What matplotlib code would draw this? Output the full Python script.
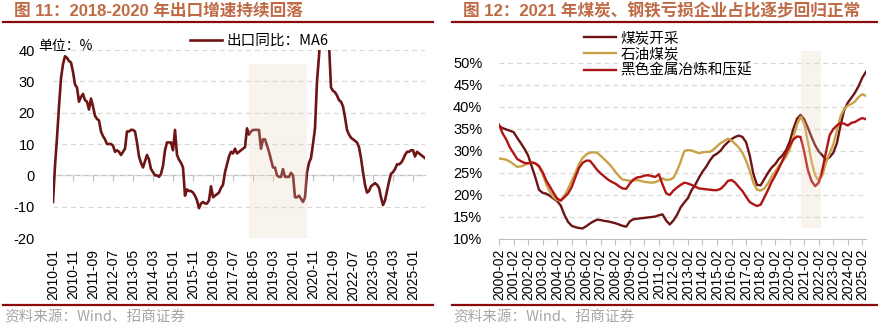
import numpy as np
import pandas as pd
import matplotlib
matplotlib.use('Agg')
import matplotlib.pyplot as plt
import matplotlib.ticker as mticker
from matplotlib.lines import Line2D

plt.rcParams['font.family'] = ['Liberation Sans', 'Noto Sans CJK SC']
plt.rcParams['axes.unicode_minus'] = False

# ---- left chart: export yoy, 6m moving average (monthly, from 2010-01)
export_start = '2010-01'
export_ma6 = [
    -8.5, 3, 12, 22, 31, 35.5, 38, 37.5, 36.5, 36, 33, 29,
    28, 23.5, 25, 26, 24, 23.5, 21, 24.5, 22, 19, 18, 17.5,
    14, 12.5, 11.5, 10, 10, 10, 9.5, 7.5, 8, 7.5, 6.5, 7.5,
    8.5, 14, 14, 14.5, 14.5, 14, 10.5, 6, 4, 2.5, 4.5, 6.5,
    5, 2, 1, 0, 0, -0.5, 0.5, 3, 8, 10.5, 10.5, 10.5,
    8, 14.5, 6.5, 5, 4, 2.5, -6.5, -4.5, -5, -5, -5.5, -6.5,
    -8, -10.5, -9, -8.5, -9, -9, -8, -3.5, -7, -6.5, -6, -5.5,
    -4, -3, 1, 3.5, 6, 7.5, 7, 8.5, 7, 7.5, 8, 8.5,
    9, 15, 13, 14, 14.5, 14.5, 14.5, 14.5, 8.5, 11.5, 11.5, 9.5,
    7.5, 5, 2.5, 2.5, 0, -0.5, -0.5, 2, -0.5, -0.5, -0.5, 0.8,
    0, -7, -7, -6.5, -7.5, -8.5, -7, 1, 4, 5.5, 10, 15,
    30, 38, 48, 55, 55, 50, 42, 28, 27, 26.5, 25.5, 24,
    23.5, 22, 18.5, 14.5, 13, 12, 11.5, 11, 10.5, 9, 5.5, 1,
    -3, -5.5, -5, -3.5, -3, -2.5, -3, -4, -7, -9.5, -8, -5,
    -2, 0.5, 1, 2, 3.5, 3.5, 4, 5, 6.5, 7.5, 7.5, 8,
    8, 6, 7.5, 7, 6.5, 6, 5.5,
]
export_label = '出口同比：MA6'
export_shade = (98, 127)        # month index from 2010-01
export_shade_y = (-20, 35.5)

# ---- right chart: share of loss-making firms (quarterly samples from 2000-02)
loss_start_year = 2000
coal_mining = [
    35.7, 35.2, 34.9, 34.6, 34.3, 33.0, 31.8, 30.5, 29.0, 26.5,
    24.0, 21.2, 20.5, 20.3, 19.8, 19.2, 18.6, 17.6, 15.5, 13.9,
    13.0, 12.7, 12.5, 12.4, 12.9, 13.5, 14.0, 14.4, 14.3, 14.1,
    14.0, 13.8, 13.6, 13.3, 13.0, 12.8, 14.0, 14.5, 14.6, 14.7,
    14.8, 14.9, 15.0, 15.1, 15.4, 15.6, 14.2, 13.3, 14.2, 15.5,
    17.2, 18.3, 19.3, 21.1, 22.3, 23.9, 25.3, 26.4, 27.8, 28.9,
    29.4, 30.1, 31.2, 32.0, 32.7, 33.2, 33.5, 33.2, 32.0, 29.0,
    24.8, 22.3, 22.2, 23.6, 25.0, 26.2, 27.0, 28.2, 29.0, 30.2,
    32.1, 35.0, 37.3, 38.2, 37.2, 35.3, 33.2, 31.3, 29.9, 29.0,
    28.0, 28.6, 29.6, 31.8, 35.9, 39.3, 41.0, 42.1, 43.3, 44.8,
    46.7, 48.0,
]
petroleum_coal = [
    28.3, 28.2, 28.0, 27.6, 27.0, 26.4, 26.5, 26.8, 27.2, 27.4,
    27.2, 26.4, 24.7, 22.5, 20.7, 19.5, 18.8, 18.9, 19.8, 21.4,
    23.2, 25.0, 27.0, 28.4, 29.2, 29.6, 29.7, 29.6, 28.9, 28.1,
    27.3, 26.4, 25.3, 24.3, 23.5, 23.4, 23.2, 23.3, 23.4, 23.2,
    23.0, 22.9, 22.8, 22.9, 23.3, 23.8, 23.4, 23.5, 23.9, 25.5,
    27.6, 30.0, 30.2, 30.1, 29.8, 29.5, 29.7, 29.8, 29.8, 30.3,
    31.1, 31.8, 32.3, 32.8, 32.4, 31.6, 30.8, 29.6, 27.8, 25.5,
    22.8, 21.2, 21.0, 21.5, 22.6, 24.1, 25.3, 26.6, 27.6, 28.7,
    30.3, 33.0, 36.0, 37.8, 36.2, 32.1, 27.6, 24.5, 23.2, 24.5,
    27.4, 29.5, 31.5, 34.6, 37.9, 39.6, 40.3, 40.7, 41.3, 42.3,
    42.9, 42.5,
]
ferrous_metals = [
    36.0, 34.0, 32.6, 30.8, 29.5, 28.2, 27.7, 27.3, 27.2, 27.4,
    27.2, 26.6, 25.2, 23.3, 21.9, 20.5, 19.2, 18.7, 19.5, 20.3,
    21.8, 24.0, 26.1, 27.3, 27.8, 27.8, 26.8, 25.7, 24.9, 24.2,
    23.5, 23.0, 22.6, 22.0, 21.5, 21.4, 22.6, 23.5, 24.0, 24.1,
    24.4, 24.5, 24.3, 24.1, 24.7, 22.4, 20.4, 20.0, 21.0, 21.7,
    22.3, 22.8, 22.6, 22.3, 21.9, 21.5, 21.4, 21.3, 21.2, 21.1,
    21.1, 21.4, 22.2, 23.2, 23.4, 22.8, 21.8, 20.9, 19.6, 18.4,
    17.9, 17.5, 17.8, 19.4, 21.1, 22.9, 24.4, 26.0, 27.8, 29.6,
    31.2, 32.6, 33.3, 33.2, 29.8, 25.7, 23.2, 22.0, 22.8, 25.8,
    29.8, 33.6, 35.0, 35.8, 36.4, 36.2, 35.8, 36.4, 36.6, 37.1,
    37.5, 37.2,
]
loss_labels = ['煤炭开采', '石油煤炭', '黑色金属冶炼和压延']
loss_shade = (249, 266)          # months from 2000-02
loss_shade_y = (12.4, 52.7)

title_left = '图 11：2018-2020 年出口增速持续回落'
title_right = '图 12：2021 年煤炭、钢铁亏损企业占比逐步回归正常'
source_text = '资料来源：Wind、招商证券'

# ---- styling
W, H = 879, 324
TITLE_COLOR = '#BF6A45'
RULE_COLOR = '#8B0A0A'
GRID_COLOR = '#D9D9D9'
AXIS_COLOR = '#BFBFBF'
SHADE_COLOR = '#EBD3BB'
series_colors = ['#6E1414', '#C9A247', '#B01414']
CJK = ['Noto Sans CJK SC', 'DejaVu Sans']


def fx(px):
    return px / W


def fy(py):
    return 1 - py / H


def _shade(ax, span, yspan):
    ymin, ymax = ax.get_ylim()
    ax.axvspan(span[0], span[1],
               ymin=(max(yspan[0], ymin) - ymin) / (ymax - ymin),
               ymax=(min(yspan[1], ymax) - ymin) / (ymax - ymin),
               facecolor=SHADE_COLOR, alpha=0.25, lw=0, zorder=3)


def _style(ax):
    for s in ax.spines.values():
        s.set_visible(False)
    ax.yaxis.grid(True, linestyle=(0, (4, 3)), color=GRID_COLOR, lw=0.9)
    ax.set_axisbelow(True)
    ax.tick_params(axis='y', length=0, labelsize=10.5)


fig = plt.figure(figsize=(W / 100, H / 100), dpi=100)

# header / footer
for x0, x1, title in [(3, 433, title_left), (452, 878, title_right)]:
    fig.text(fx(x0 + 11), fy(11), title, fontsize=12, fontweight='bold',
             color=TITLE_COLOR, va='center', ha='left')
    fig.add_artist(Line2D([fx(x0), fx(x1)], [fy(22), fy(22)], color=RULE_COLOR, lw=1.6))
    fig.add_artist(Line2D([fx(x0), fx(x1)], [fy(305), fy(305)], color=RULE_COLOR, lw=1.6))
    fig.text(fx(x0 + 1), fy(317), source_text, fontsize=10.5, color='#A6A6A6',
             va='center', ha='left', family=CJK)

# ---- left chart
ax1 = fig.add_axes([fx(53), fy(238), fx(425 - 53), (238 - 50) / H])
_style(ax1)
x1 = np.arange(len(export_ma6))
ax1.plot(x1, export_ma6, color=series_colors[0], lw=1.9, label=export_label, zorder=2)
ax1.set_xlim(0, len(export_ma6) - 1)
ax1.set_ylim(-20, 40)
ax1.set_yticks(np.arange(-20, 41, 10))
months = pd.period_range(export_start, periods=len(export_ma6), freq='M')
ticks1 = x1[::10]
ax1.set_xticks(ticks1)
ax1.set_xticklabels([months[i].strftime('%Y-%m') for i in ticks1], rotation=90, fontsize=10)
ax1.tick_params(axis='x', length=0, pad=8)
ax1.tick_params(axis='y', pad=13)
_shade(ax1, export_shade, export_shade_y)
zero = ax1.secondary_xaxis((0 - ax1.get_ylim()[0]) / (ax1.get_ylim()[1] - ax1.get_ylim()[0]))
zero.set_xticks(ticks1)
zero.tick_params(length=4, color=AXIS_COLOR, labelbottom=False, direction='out')
zero.spines['bottom'].set_color(AXIS_COLOR)
ax1.legend(loc='center left', bbox_to_anchor=(fx(190), fy(41)), bbox_transform=fig.transFigure,
           frameon=False, prop={'family': CJK, 'size': 10.5}, handlelength=2.2,
           handletextpad=0.3, borderpad=0, borderaxespad=0)
fig.text(fx(38), fy(46), '单位：%', fontsize=10, va='center', ha='left', family=CJK)

# ---- right chart
ax2 = fig.add_axes([fx(499), fy(239), fx(866 - 499), (239 - 49.8) / H])
_style(ax2)
x2 = np.arange(len(coal_mining)) * 3
for values, color, label in zip([coal_mining, petroleum_coal, ferrous_metals], series_colors, loss_labels):
    ax2.plot(x2, values, color=color, lw=1.7, label=label, zorder=2)
ax2.set_xlim(0, x2[-1])
ax2.set_ylim(10, 53)
ax2.set_yticks(np.arange(10, 51, 5))
ax2.yaxis.set_major_formatter(mticker.PercentFormatter(xmax=100, decimals=0))
ticks2 = np.arange(0, x2[-1] + 1, 12)
ax2.set_xticks(ticks2)
ax2.set_xticklabels(['%d-02' % (loss_start_year + i) for i in range(len(ticks2))], rotation=90, fontsize=10)
ax2.spines['bottom'].set_visible(True)
ax2.spines['bottom'].set_color(AXIS_COLOR)
ax2.tick_params(axis='x', length=4, color=AXIS_COLOR, pad=3)
ax2.tick_params(axis='y', pad=12)
_shade(ax2, loss_shade, loss_shade_y)
ax2.legend(loc='upper left', bbox_to_anchor=(fx(584), fy(31)), bbox_transform=fig.transFigure,
           frameon=False, prop={'family': CJK, 'size': 10.5}, handlelength=2.2,
           handletextpad=0.3, borderpad=0, borderaxespad=0, labelspacing=0.15)

fig.savefig('out.png', dpi=100)
